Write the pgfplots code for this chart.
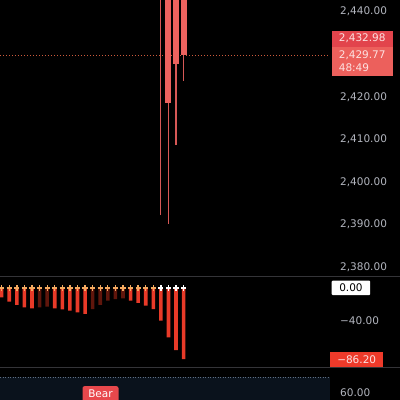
\documentclass[border=0pt]{standalone}
\usepackage{fontspec}
\setmainfont{DejaVu Sans}
\usepackage{pgfplots}
\pgfplotsset{compat=1.18}
\definecolor{tickc}{RGB}{178,181,190}
\definecolor{candle}{RGB}{236,98,94}
\definecolor{wick}{RGB}{214,88,86}
\definecolor{lastline}{RGB}{205,90,60}
\definecolor{histred}{RGB}{232,58,40}
\definecolor{histdark}{RGB}{96,22,12}
\definecolor{crossor}{RGB}{244,170,96}
\definecolor{sepc}{RGB}{52,52,56}
\definecolor{navy}{RGB}{10,18,28}
\definecolor{dotblue}{RGB}{95,110,130}
\definecolor{boxA}{RGB}{226,68,76}
\definecolor{boxB}{RGB}{236,96,92}
\definecolor{boxC}{RGB}{238,58,42}
\definecolor{bear}{RGB}{232,72,76}
\definecolor{boxtext}{RGB}{252,225,225}
\pgfplotsset{
  panel/.style={
    anchor=south west, scale only axis, width=330pt,
    xmin=0.776, xmax=44.31,
    axis line style={draw=none}, major tick length=0pt,
    xtick=\empty, yticklabel pos=right,
    yticklabel style={anchor=west, inner sep=0pt, xshift=10pt,
      font=\fontsize{10.5}{12}\selectfont, text=tickc},
    clip=true,
  }
}
\begin{document}
\begin{tikzpicture}
\fill[black] (0pt,0pt) rectangle (400pt,400pt);
\useasboundingbox (0pt,0pt) rectangle (400pt,400pt);
% ---------------- price panel ----------------
\begin{axis}[panel, at={(0pt,123pt)}, height=277pt,
  ymin=2377.7, ymax=2442.7,
  ytick={2380,2390,2400,2410,2420,2440},
  yticklabels={{2,380.00},{2,390.00},{2,400.00},{2,410.00},{2,420.00},{2,440.00}}]
\addplot[lastline, line width=0.9pt, dash pattern=on 1pt off 2pt] coordinates {(0.776,2429.77) (44.31,2429.77)};
% wicks
\addplot[wick, line width=1.1pt] coordinates {(22,2392.2) (22,2470)};
\addplot[wick, line width=1.1pt] coordinates {(23,2390.2) (23,2470)};
\addplot[wick, line width=1.1pt] coordinates {(24,2408.7) (24,2470)};
\addplot[wick, line width=1.1pt] coordinates {(25,2423.7) (25,2470)};
% bodies
\addplot[fill=candle, draw=none] coordinates {(22.6,2418.6) (23.4,2418.6) (23.4,2460) (22.6,2460)} --cycle;
\addplot[fill=candle, draw=none] coordinates {(23.6,2427.7) (24.4,2427.7) (24.4,2455) (23.6,2455)} --cycle;
\addplot[fill=candle, draw=none] coordinates {(24.6,2429.77) (25.4,2429.77) (25.4,2450) (24.6,2450)} --cycle;
\end{axis}
% ---------------- MACD panel ----------------
\begin{axis}[panel, at={(0pt,32.5pt)}, height=90.5pt,
  ymin=-96.4, ymax=13.3,
  ytick={-40}, yticklabels={−40.00}]
\addplot[ybar, bar width=3.6pt, bar shift=0pt, fill=histred, draw=none] coordinates {
(1,-11.3) (2,-16.6) (3,-20.6) (4,-23.4) (5,-24.6)
(8,-24.6) (9,-25.9) (10,-27.5) (11,-29.5) (12,-31.3)
(18,-15.2) (19,-18.2) (20,-21.4) (21,-25.5)
(22,-39.6) (23,-59.8) (24,-75.2) (25,-86.2)};
\addplot[ybar, bar width=3.6pt, bar shift=0pt, fill=histdark, draw=none] coordinates {
(6,-23.4) (7,-22.6) (13,-25.5) (14,-20.5) (15,-15.2) (16,-13.4) (17,-12.5)};
\addplot[only marks, mark=+, mark size=2.6pt, crossor, line width=1.3pt] coordinates {
(1,0) (2,0) (3,0) (4,0) (5,0) (6,0) (7,0) (8,0) (9,0) (10,0) (11,0) (12,0) (13,0)
(14,0) (15,0) (16,0) (17,0) (18,0) (19,0) (20,0) (21,0)};
\addplot[only marks, mark=+, mark size=2.6pt, white, line width=1.3pt] coordinates {
(22,0) (23,0) (24,0) (25,0)};
\end{axis}
% ---------------- lower panel ----------------
\begin{axis}[panel, at={(0pt,0pt)}, height=32.5pt,
  ymin=54.9, ymax=76.5,
  ytick={60}, yticklabels={60.00}]
\addplot[fill=navy, draw=none] coordinates {(0.776,40) (44.31,40) (44.31,70) (0.776,70)} --cycle;
\addplot[dotblue, line width=0.8pt, dash pattern=on 1pt off 1.5pt] coordinates {(0.776,70) (44.31,70)};
\end{axis}
% separators
\draw[sepc, line width=1pt] (0pt,123pt) -- (400pt,123pt);
\draw[sepc, line width=1pt] (0pt,32.5pt) -- (400pt,32.5pt);
% price labels
\node[fill=boxA, anchor=north west, minimum width=61pt, minimum height=16pt, inner sep=0pt,
  text=boxtext, font=\fontsize{10.5}{12}\selectfont] at (331.5pt,369.5pt) {2,432.98};
\node[fill=boxB, anchor=north west, minimum width=61pt, minimum height=29pt, inner sep=0pt,
  text=boxtext, font=\fontsize{10.5}{13}\selectfont, align=left] at (331.5pt,353.5pt) {2,429.77\\48:49};
\node[fill=white, anchor=north west, minimum width=38.5pt, minimum height=14.5pt, inner sep=0pt,
  text=black, font=\fontsize{10.5}{12}\selectfont, rounded corners=1pt] at (331.5pt,119.5pt) {0.00};
\node[fill=boxC, anchor=north west, minimum width=53pt, minimum height=15.5pt, inner sep=0pt,
  text=boxtext, font=\fontsize{10.5}{12}\selectfont] at (330pt,48.5pt) {−86.20};
\node[fill=bear, anchor=north west, minimum width=36pt, minimum height=16pt, inner sep=0pt,
  text=white, font=\fontsize{10.5}{12}\selectfont, rounded corners=2pt] at (82.3pt,14pt) {Bear};
\end{tikzpicture}
\end{document}
